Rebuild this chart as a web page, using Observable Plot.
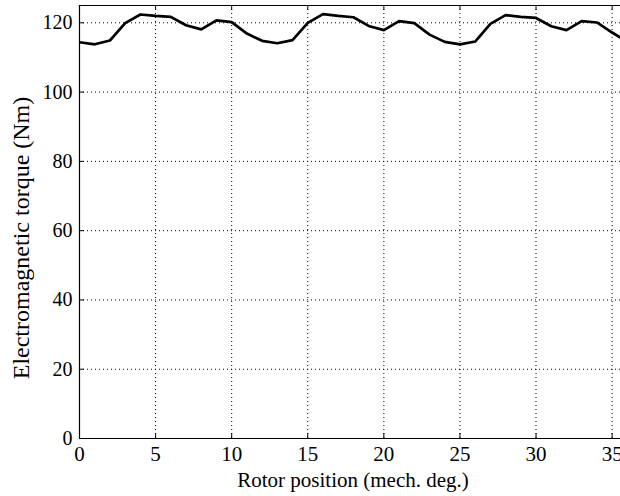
<!DOCTYPE html>
<html>
<head>
<meta charset="utf-8">
<script src="https://cdn.jsdelivr.net/npm/d3@7"></script>
<script src="https://cdn.jsdelivr.net/npm/@observablehq/plot@0.6"></script>
<style>
  html, body { margin: 0; padding: 0; background: #fff; }
  #chart svg { display: block; }
  #chart svg, #chart svg text { font-family: "Liberation Serif", "DejaVu Serif", serif; }
</style>
</head>
<body>
<div id="chart"></div>
<script>
const rotorPosition = [0,1,2,3,4,5,6,7,8,9,10,11,12,13,14,15,16,17,18,19,20,21,22,23,24,25,26,27,28,29,30,31,32,33,34,35,36];
const torque = [114.4,113.8,114.9,119.9,122.4,122.0,121.7,119.3,118.1,120.7,120.2,116.9,114.8,114.1,115.0,120.0,122.5,122.0,121.6,119.1,117.9,120.5,119.9,116.6,114.5,113.8,114.6,119.7,122.2,121.7,121.4,119.0,117.9,120.5,120.1,117.2,114.5];
const xTicks = [0,5,10,15,20,25,30,35];
const yTicks = [0,20,40,60,80,100,120];
const xLabel = "Rotor position (mech. deg.)";
const yLabel = "Electromagnetic torque (Nm)";

const data = rotorPosition.map((p, i) => ({p, t: torque[i]}));
const xMax = 35.55, yMax = 125;
const tickLenX = 5 / 3.458;   // inward tick length in y units
const tickLenY = 5 / 15.23;   // inward tick length in x units

const chart = Plot.plot({
  width: 620,
  height: 496,
  marginLeft: 79,
  marginRight: 0,
  marginTop: 5,
  marginBottom: 58,
  style: {fontFamily: "Liberation Serif, serif", fontSize: "20px", color: "#000", background: "#fff"},
  x: {domain: [0, xMax]},
  y: {domain: [0, yMax]},
  marks: [
    Plot.ruleX(xTicks.filter(d => d > 0), {x: d => d, stroke: "#000", strokeWidth: 1, strokeDasharray: "1,3"}),
    Plot.ruleY(yTicks.filter(d => d > 0), {y: d => d, stroke: "#000", strokeWidth: 1, strokeDasharray: "1,3"}),
    // inward ticks
    Plot.ruleX(xTicks, {x: d => d, y1: 0, y2: tickLenX, stroke: "#000"}),
    Plot.ruleX(xTicks, {x: d => d, y1: yMax - tickLenX, y2: yMax, stroke: "#000"}),
    Plot.ruleY(yTicks, {y: d => d, x1: 0, x2: tickLenY, stroke: "#000"}),
    Plot.line(data, {x: "p", y: "t", stroke: "#000", strokeWidth: 2.7, clip: true}),
    Plot.ruleY([0, yMax], {stroke: "#000", strokeWidth: 1.2}),
    Plot.ruleX([0], {stroke: "#000", strokeWidth: 1.2}),
    Plot.axisX(xTicks, {tickSize: 0, tickPadding: 8, fontSize: 21, label: null}),
    Plot.axisY(yTicks, {tickSize: 0, tickPadding: 7, fontSize: 20, label: null}),
    Plot.text([xLabel], {frameAnchor: "bottom", text: d => d, fontSize: 21, lineAnchor: "middle", textAnchor: "middle", dy: 42, dx: 3, fill: "#000"}),
    Plot.text([yLabel], {frameAnchor: "left", text: d => d, fontSize: 24, rotate: -90, lineAnchor: "middle", textAnchor: "middle", dx: -58, dy: 16, fill: "#000"})
  ]
});
document.getElementById("chart").appendChild(chart);
</script>
</body>
</html>
